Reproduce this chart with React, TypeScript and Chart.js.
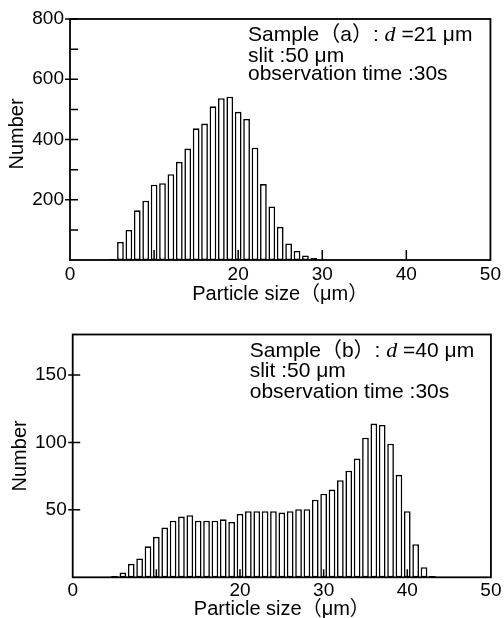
import React, { useEffect, useRef } from 'react';
import { Chart, registerables } from 'chart.js';

Chart.register(...registerables);

// ---- data ----
const sizesA = [5, 6, 7, 8, 9, 10, 11, 12, 13, 14, 15, 16, 17, 18, 19, 20, 21, 22, 23, 24, 25, 26, 27, 28, 29];
const countsA = [3, 60, 100, 165, 197, 250, 255, 285, 326, 370, 437, 453, 510, 537, 542, 492, 468, 373, 252, 178, 110, 55, 30, 15, 7];

const sizesB = [5, 6, 7, 8, 9, 10, 11, 12, 13, 14, 15, 16, 17, 18, 19, 20, 21, 22, 23, 24, 25, 26, 27, 28, 29, 30, 31, 32, 33, 34, 35, 36, 37, 38, 39, 40, 41, 42, 43];
const countsB = [1, 3.5, 10, 14, 23, 30, 37, 42, 45, 46, 42, 42, 42, 43, 41, 47, 49, 49, 49, 49, 48, 49, 50.5, 50.5, 57.5, 62, 65, 72, 79, 88, 103.5, 114, 113, 99, 76, 49, 24.5, 7.5, 1];

const xTickValues = [0, 10, 20, 30, 40, 50];
const xTickLabels = ['0', '', '20', '30', '40', '50'];
const xInnerTicks = [10, 20, 30, 40];

const yTickValuesA = [0, 200, 400, 600, 800];
const yTickLabelsA = ['', '200', '400', '600', '800'];
const yMinorA = [100, 300, 500, 700];

const yTickValuesB = [0, 50, 100, 150];
const yTickLabelsB = ['', '50', '100', '150'];
const yMinorB: number[] = [];

const xTitle = 'Particle size（μm）';
const yTitle = 'Number';
const annotationA = [
  [{ t: 'Sample（a）: ', i: false }, { t: 'd', i: true }, { t: ' =21 μm', i: false }],
  [{ t: 'slit :50 μm', i: false }],
  [{ t: 'observation time :30s', i: false }],
];
const annotationB = [
  [{ t: 'Sample（b）: ', i: false }, { t: 'd', i: true }, { t: ' =40 μm', i: false }],
  [{ t: 'slit :50 μm', i: false }],
  [{ t: 'observation time :30s', i: false }],
];

const FONT = "'Liberation Sans', Arial, Helvetica, 'Noto Sans CJK JP', sans-serif";

type Seg = { t: string; i: boolean };
type Cfg = {
  top: number;
  height: number;
  sizes: number[];
  counts: number[];
  yMax: number;
  yTicks: number[];
  yLabels: string[];
  yMinor: number[];
  padTop: number;
  padRight: number;
  yWidth: number;
  xHeight: number;
  xLabelPad: number;
  xTitlePad: number;
  yTitlePad: number;
  yTitleText: string;
  majorOut: number;
  majorIn: number;
  xIn: number;
  annX: number;
  annY: number[];
  lines: Seg[][];
};

function makePlugin(cfg: Cfg) {
  return {
    id: 'frameTicks',
    afterDatasetsDraw(chart: any) {
      const { ctx, chartArea: a, scales } = chart;
      const xs = scales.x;
      const ys = scales.y;
      ctx.save();
      ctx.strokeStyle = '#000';
      ctx.lineWidth = 1.5;
      ctx.beginPath();
      cfg.yTicks.forEach((v) => {
        if (v === 0) return;
        const p = ys.getPixelForValue(v);
        ctx.moveTo(a.left - cfg.majorOut, p);
        ctx.lineTo(a.left + cfg.majorIn, p);
      });
      cfg.yMinor.forEach((v) => {
        const p = ys.getPixelForValue(v);
        ctx.moveTo(a.left, p);
        ctx.lineTo(a.left + cfg.majorIn, p);
      });
      xInnerTicks.forEach((v) => {
        const p = xs.getPixelForValue(v);
        ctx.moveTo(p, a.bottom);
        ctx.lineTo(p, a.bottom - cfg.xIn);
      });
      ctx.stroke();
      ctx.lineWidth = 1.8;
      ctx.strokeRect(a.left, a.top, a.right - a.left, a.bottom - a.top);

      ctx.fillStyle = '#000';
      ctx.textAlign = 'left';
      ctx.textBaseline = 'alphabetic';
      cfg.lines.forEach((segs, idx) => {
        let xx = a.left + cfg.annX;
        const yy = a.top + cfg.annY[idx];
        segs.forEach((s) => {
          ctx.font = s.i ? "italic 22px 'Liberation Serif', 'DejaVu Serif', serif" : `21px ${FONT}`;
          ctx.fillText(s.t, xx, yy);
          xx += ctx.measureText(s.t).width;
        });
      });
      ctx.restore();
    },
  };
}

function Hist({ cfg }: { cfg: Cfg }) {
  const ref = useRef<HTMLCanvasElement>(null);
  useEffect(() => {
    const canvas = ref.current;
    if (!canvas) return;
    const chart = new Chart(canvas, {
      type: 'bar',
      data: {
        datasets: [
          {
            data: cfg.sizes.map((s, i) => ({ x: s, y: cfg.counts[i] })),
            backgroundColor: '#ffffff',
            borderColor: '#000000',
            borderWidth: 1.6,
            borderSkipped: false,
            barPercentage: 0.8,
            categoryPercentage: 1,
          } as any,
        ],
      },
      options: {
        responsive: false,
        devicePixelRatio: 1,
        animation: false,
        events: [],
        layout: { padding: { left: 0, right: cfg.padRight, top: cfg.padTop, bottom: 0 } },
        plugins: { legend: { display: false }, tooltip: { enabled: false } },
        scales: {
          x: {
            type: 'linear',
            min: 0,
            max: 50,
            offset: false,
            afterBuildTicks: (s: any) => {
              s.ticks = xTickValues.map((v) => ({ value: v }));
            },
            afterFit: (s: any) => {
              s.height = cfg.xHeight;
            },
            ticks: {
              autoSkip: false,
              maxRotation: 0,
              padding: cfg.xLabelPad,
              color: '#000',
              font: { family: FONT, size: 19 },
              callback: (v: any) => {
                const i = xTickValues.indexOf(Number(v));
                return i >= 0 ? xTickLabels[i] : '';
              },
            },
            grid: { display: false, drawTicks: false },
            border: { display: false },
            title: {
              display: true,
              text: xTitle,
              color: '#000',
              font: { family: FONT, size: 20 },
              padding: { top: 0, bottom: cfg.xTitlePad },
            },
          },
          y: {
            type: 'linear',
            min: 0,
            max: cfg.yMax,
            afterBuildTicks: (s: any) => {
              s.ticks = cfg.yTicks.map((v) => ({ value: v }));
            },
            afterFit: (s: any) => {
              s.width = cfg.yWidth;
            },
            ticks: {
              autoSkip: false,
              padding: 6,
              color: '#000',
              font: { family: FONT, size: 19 },
              callback: (v: any) => {
                const i = cfg.yTicks.indexOf(Number(v));
                return i >= 0 ? cfg.yLabels[i] : '';
              },
            },
            grid: { display: false, drawTicks: false },
            border: { display: false },
            title: {
              display: true,
              text: cfg.yTitleText,
              color: '#000',
              font: { family: FONT, size: 20 },
              padding: { top: cfg.yTitlePad, bottom: 0 },
            },
          },
        },
      } as any,
      plugins: [makePlugin(cfg) as any],
    });
    return () => chart.destroy();
  }, [cfg]);
  return (
    <canvas
      ref={ref}
      width={504}
      height={cfg.height}
      style={{ position: 'absolute', left: 0, top: cfg.top, width: 504, height: cfg.height, display: 'block' }}
    />
  );
}

const cfgA: Cfg = {
  top: 0,
  height: 309,
  sizes: sizesA,
  counts: countsA,
  yMax: 800,
  yTicks: yTickValuesA,
  yLabels: yTickLabelsA,
  yMinor: yMinorA,
  padTop: 19,
  padRight: 13,
  yWidth: 70,
  xHeight: 49,
  xLabelPad: 3,
  xTitlePad: 3,
  yTitlePad: 5.5,
  yTitleText: '  ' + yTitle,
  majorOut: 5,
  majorIn: 8,
  xIn: 10,
  annX: 178,
  annY: [22, 42.7, 61],
  lines: annotationA,
};

const cfgB: Cfg = {
  top: 309,
  height: 312,
  sizes: sizesB,
  counts: countsB,
  yMax: 180,
  yTicks: yTickValuesB,
  yLabels: yTickLabelsB,
  yMinor: yMinorB,
  padTop: 25.5,
  padRight: 12,
  yWidth: 72.7,
  xHeight: 43.7,
  xLabelPad: 2.5,
  xTitlePad: 0,
  yTitlePad: 8.8,
  yTitleText: yTitle,
  majorOut: 4.5,
  majorIn: 7.5,
  xIn: 8,
  annX: 177,
  annY: [22.2, 42.2, 63.5],
  lines: annotationB,
};

export default function App() {
  return (
    <div
      style={{
        position: 'absolute',
        left: 0,
        top: 0,
        width: 504,
        height: 618,
        overflow: 'hidden',
        background: '#ffffff',
      }}
    >
      <Hist cfg={cfgA} />
      <Hist cfg={cfgB} />
    </div>
  );
}
